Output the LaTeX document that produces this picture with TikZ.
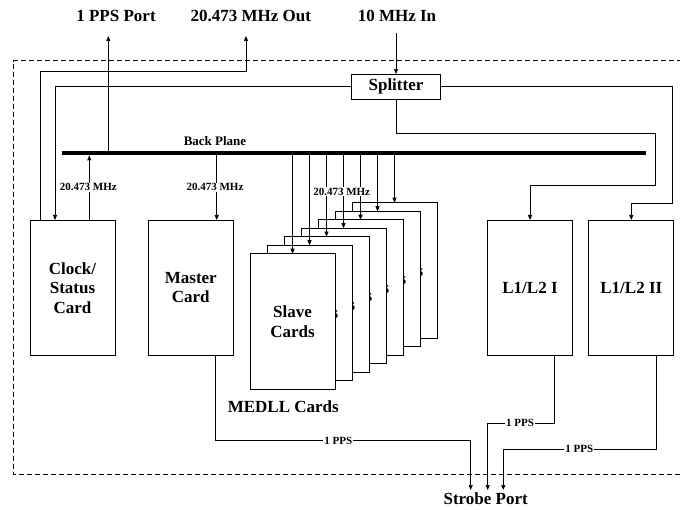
\documentclass[tikz,border=0pt]{standalone}
\usepackage{fontspec}
\setmainfont{Liberation Serif}
\usetikzlibrary{arrows.meta}
\begin{document}
\begin{tikzpicture}[x=1pt,y=-1pt,
  line width=0.7pt,
  card/.style={draw, fill=white, minimum width=85pt, minimum height=135.5pt, inner sep=0pt, outer sep=0pt,
    font=\fontsize{17}{19.5}\selectfont\bfseries, align=center, line width=0.9pt},
  big/.style={font=\fontsize{17}{20}\selectfont\bfseries, inner sep=0pt},
  small/.style={font=\fontsize{11}{12}\selectfont\bfseries, fill=white, inner sep=1pt},
  arr/.style={-{Triangle[length=5pt,width=4pt]}},
]
\useasboundingbox (0,0) rectangle (680,510);

% enclosure
\draw[dash pattern=on 5pt off 3pt, line width=0.8pt] (682,60.7) -- (13.3,60.7) -- (13.3,474.3) -- (682,474.3);

% port labels
\node[big, anchor=base] (ppsport) at (116,22) {1 PPS Port};
\node[big, anchor=base] (mhzout) at (250.7,22) {20.473 MHz Out};
\node[big, anchor=base] (tenin) at (397,22) {10 MHz In};
\node[big, anchor=base] (strobe) at (485.7,504) {Strobe Port};
\coordinate (pp) at (108.3,36);
\coordinate (mo) at (246,36);
\coordinate (ti) at (396,33);
\coordinate (sp1) at (470.7,490);
\coordinate (sp2) at (487.7,490);
\coordinate (sp3) at (503.3,490);

% splitter
\node[draw, fill=white, minimum width=89.7pt, minimum height=25.3pt, inner sep=0pt, outer sep=0pt, big, line width=0.9pt] (split) at (396,86.7) {Splitter};

% back plane
\node[fill=black, minimum width=584.3pt, minimum height=4pt, inner sep=0pt, outer sep=0pt] (bp) at (353.85,153.3) {};
\node[font=\fontsize{13}{14}\selectfont\bfseries, inner sep=0pt] (bplabel) at (215,141) {Back Plane};

% cards
\node[card] (clock) at (72.5,287.75) {Clock/\\Status\\Card};
\node[card] (master) at (190.8,287.75) {Master\\Card};
\node[card] (l1) at (530,287.75) {L1/L2 I};
\node[card] (l2) at (631.3,287.75) {L1/L2 II};

% stacked slave cards (back to front); only the last letter of each hidden label shows
\foreach \k in {6,5,...,1} {
  \node[card] (s\k) at ({292.5+17*\k},{321.5-8.5*\k}) {};
  \node[big, anchor=base east] (t\k) at ({292.5+17*\k+29},{321.5-8.5*\k+6}) {s};
}
\node[card] (s0) at (292.5,321.5) {Slave\\Cards};
\node[big] (medll) at (283.3,406.7) {MEDLL Cards};

% helper coordinates
\coordinate (ck1) at ([xshift=10pt]clock.north west);
\coordinate (ck2) at ([xshift=25pt]clock.north west);
\coordinate (ck3) at ([xshift=59.3pt]clock.north west);
\coordinate (ms) at ([xshift=68.4pt]master.north west);
\coordinate (mb) at ([xshift=66.7pt]master.south west);
\coordinate (l1b) at ([xshift=67.3pt]l1.south west);
\coordinate (l2b) at ([xshift=67.4pt]l2.south west);

% connectors
\draw[arr] (ti) -- (split.north);
\draw[arr] (bp.north -| pp) -- (pp);
\draw[arr] (ck1) |- (246,71.7) -- (mo);
\draw[arr] (split.west) -| (ck2);
\draw[arr] (ck3) -- (ck3 |- bp.south);
\draw[arr] (bp.south -| ms) -- (ms);
\foreach \k in {0,...,6} {
  \draw[arr] (bp.south -| s\k.north) -- (s\k.north);
}
\draw[arr] (split.south) |- (655,133.3) -- (655,185.7) -| (l1.north);
\draw[arr] (split.east) -| (672.7,203.3) -| (l2.north);

\draw[arr] (mb) |- (470.7,440.7) -- (sp1);
\draw[arr] (l1b) |- (487.7,423.3) -- (sp2);
\draw[arr] (l2b) |- (503.3,449) -- (sp3);

% connector labels
\node[small] (f1) at (88.3,187.3) {20.473 MHz};
\node[small] (f2) at (215,187.3) {20.473 MHz};
\node[small] (f3) at (341.7,191.7) {20.473 MHz};
\node[small] (p1) at (338.3,440.7) {1 PPS};
\node[small] (p2) at (520,423.3) {1 PPS};
\node[small] (p3) at (579.3,449) {1 PPS};
\end{tikzpicture}
\end{document}
